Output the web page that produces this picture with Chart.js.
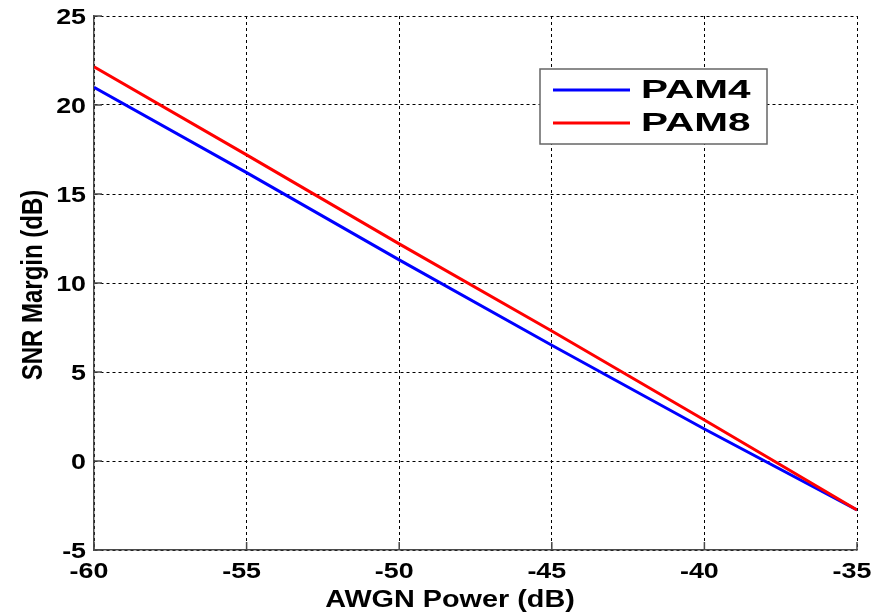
<!DOCTYPE html>
<html>
<head>
<meta charset="utf-8">
<script src="https://cdn.jsdelivr.net/npm/chart.js@4/dist/chart.umd.min.js"></script>
<style>
  html, body { margin: 0; padding: 0; background: #fff; }
  #wrap { width: 883px; height: 613px; }
</style>
</head>
<body>
<div id="wrap"><canvas id="snrChart" width="883" height="613"></canvas></div>
<script>
//----------------------
// Data
//----------------------

const awgnPower = [-60, -55, -50, -45, -40, -35];
const pam4Margin = [21.0, 16.2, 11.3, 6.5, 1.8, -2.75];
const pam8Margin = [22.15, 17.2, 12.2, 7.3, 2.3, -2.75];
const xTicks = [-60, -55, -50, -45, -40, -35];
const yTicks = [-5, 0, 5, 10, 15, 20, 25];

const seriesNames = ['PAM4', 'PAM8'];
const seriesColors = ['#0000ff', '#ff0000'];
const xTitle = 'AWGN Power (dB)';
const yTitle = 'SNR Margin (dB)';

const toPoints = (ys) => awgnPower.map((x, i) => ({ x: x, y: ys[i] }));

const FAMILY = 'Liberation Sans, Arial, sans-serif';
const AXIS_GRAY = '#4a4a4a';

// the original figure is stretched sideways, so text gets a horizontal scale
function wideText(c, text, x, y, sx, align) {
    c.save();
    c.translate(x, y);
    c.scale(sx, 1);
    c.textAlign = align;
    c.fillText(text, 0, 0);
    c.restore();
}

//----------------------
// Labels, inner ticks and legend (matlab look)
//----------------------
const matlabDecor = {
    id: 'matlabDecor',
    afterDraw(chart) {
        const c = chart.ctx;
        const xs = chart.scales.x;
        const ys = chart.scales.y;
        const area = chart.chartArea;
        c.save();

        // inward tick marks
        c.strokeStyle = AXIS_GRAY;
        c.lineWidth = 1.5;
        c.beginPath();
        xTicks.forEach(v => {
            const px = xs.getPixelForValue(v);
            c.moveTo(px, area.bottom);
            c.lineTo(px, area.bottom - 8);
        });
        yTicks.forEach(v => {
            const py = ys.getPixelForValue(v);
            c.moveTo(area.left, py);
            c.lineTo(area.left + 8, py);
        });
        c.stroke();

        // tick labels
        c.fillStyle = '#000';
        c.font = 'bold 22px ' + FAMILY;
        c.textBaseline = 'alphabetic';
        xTicks.forEach(v => {
            wideText(c, String(v), xs.getPixelForValue(v) - 5, area.bottom + 28, 1.22, 'center');
        });
        yTicks.forEach(v => {
            wideText(c, String(v), area.left - 8, ys.getPixelForValue(v) + 8, 1.22, 'right');
        });

        // axis titles
        c.font = 'bold 24px ' + FAMILY;
        wideText(c, xTitle, 450, 607, 1.2, 'center');
        c.save();
        c.translate(42, 285);
        c.rotate(-Math.PI / 2);
        c.scale(1, 1.2);
        c.textAlign = 'center';
        c.fillText(yTitle, 0, 0);
        c.restore();

        // legend box
        const left = 540, top = 69, w = 227, h = 75;
        c.fillStyle = '#fff';
        c.fillRect(left, top, w, h);
        c.strokeStyle = '#666';
        c.lineWidth = 1.5;
        c.strokeRect(left, top, w, h);
        c.font = 'bold 25px ' + FAMILY;
        const rows = [90, 123];
        seriesNames.forEach((name, i) => {
            c.strokeStyle = seriesColors[i];
            c.lineWidth = 3;
            c.beginPath();
            c.moveTo(553, rows[i]);
            c.lineTo(630, rows[i]);
            c.stroke();
            c.fillStyle = '#000';
            wideText(c, name, 641, rows[i] + 8, 1.62, 'left');
        });

        c.restore();
    }
};

const ctx = document.getElementById('snrChart').getContext('2d');
const chart = new Chart(ctx, {
    type: 'line',
    data: {
        datasets: [
            {
                label: seriesNames[1],
                data: toPoints(pam8Margin),
                borderColor: seriesColors[1],
                borderWidth: 3,
                pointRadius: 0,
                tension: 0,
                order: 0
            },
            {
                label: seriesNames[0],
                data: toPoints(pam4Margin),
                borderColor: seriesColors[0],
                borderWidth: 3,
                pointRadius: 0,
                tension: 0,
                order: 1
            }
        ]
    },
    options: {
        responsive: false,
        animation: false,
        layout: { padding: { top: 16, right: 26, left: 0, bottom: 0 } },
        plugins: {
            legend: { display: false },
            tooltip: { enabled: false }
        },
        scales: {
            x: {
                type: 'linear',
                min: -60,
                max: -35,
                afterBuildTicks: (axis) => { axis.ticks = xTicks.map(v => ({ value: v })); },
                afterFit: (axis) => { axis.height = 63; },
                ticks: { display: false },
                grid: { color: '#000', lineWidth: 1, drawTicks: false },
                // in v4 border.dash styles the grid lines
                border: { display: true, color: AXIS_GRAY, width: 1.5, dash: [3, 3] }
            },
            y: {
                type: 'linear',
                min: -5,
                max: 25,
                afterBuildTicks: (axis) => { axis.ticks = yTicks.map(v => ({ value: v })); },
                afterFit: (axis) => { axis.width = 94; },
                ticks: { display: false },
                grid: { color: '#000', lineWidth: 1, drawTicks: false },
                border: { display: true, color: AXIS_GRAY, width: 1.5, dash: [3, 3] }
            }
        }
    },
    plugins: [matlabDecor]
});
</script>
</body>
</html>
